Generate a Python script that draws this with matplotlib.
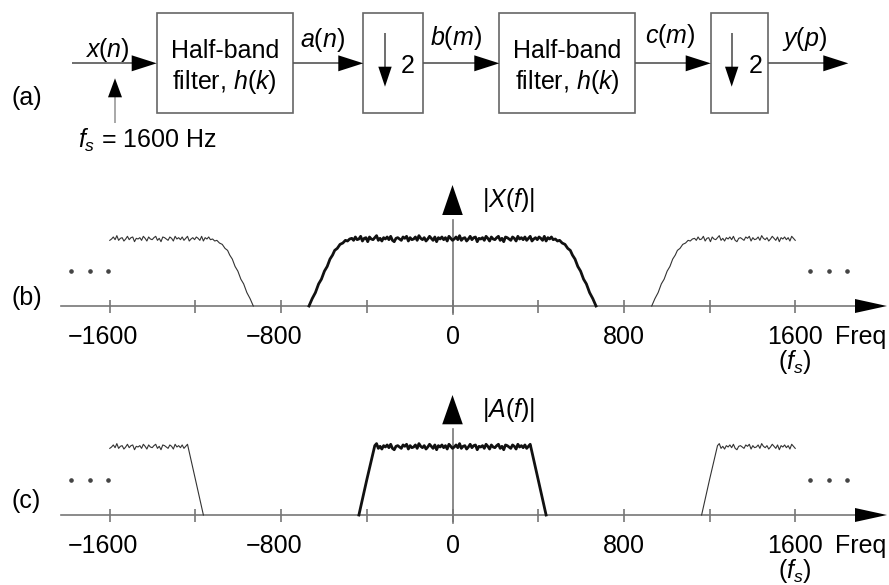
"""
Half-band decimation chain: block diagram (a) and spectra |X(f)| (b), |A(f)| (c).
Output: out.png
"""

import numpy as np
import matplotlib
matplotlib.use('Agg')
import matplotlib.pyplot as plt
import matplotlib.transforms as mtransforms
from matplotlib.patches import Rectangle, Polygon

plt.rcParams['font.family'] = ['Liberation Sans', 'DejaVu Sans']
plt.rcParams['mathtext.fontset'] = 'custom'
plt.rcParams['mathtext.rm'] = 'Liberation Sans'
plt.rcParams['mathtext.it'] = 'Liberation Sans:italic'

# ── data ────────────────────────────────────────────────────────────────────
FS = 1600
TICK_F = [-1600, -1200, -800, -400, 0, 400, 800, 1200, 1600]
TICK_LBL = {-1600: '\u22121600', -800: '\u2212800', 0: '0', 800: '800', 1600: '1600'}

# |X(f)| pass-band ripple around 1.0, read along the flat top (-470 .. 470 Hz)
X_FLAT = 470
X_RIPPLE = [0.01, -0.02, 0.03, -0.01, 0.00, 0.04, -0.03, 0.01, 0.02, -0.04,
            0.03, 0.00, -0.01, 0.02, 0.05, -0.02, 0.01, -0.03, 0.02, 0.00,
            0.03, -0.01, 0.04, -0.02, -0.04, 0.01, 0.02, 0.00, -0.02, 0.03,
            0.01, 0.04, -0.03, 0.02, -0.01, 0.00, 0.03, -0.02, 0.05, 0.01,
            -0.01, 0.02, -0.03, 0.00, 0.04, 0.01, -0.02, 0.03, -0.04, 0.02,
            0.00, 0.03, -0.01, 0.02, -0.03, 0.04, 0.01, -0.02, 0.00, 0.03,
            -0.01, 0.05, -0.02, 0.01, 0.02, -0.03, 0.00, 0.04, -0.01, 0.02,
            0.03, -0.04, 0.01, 0.00, 0.02, -0.02, 0.04, 0.01, -0.03, 0.03,
            0.00, -0.01, 0.02, 0.04, -0.02, 0.01, -0.04, 0.03, 0.02, 0.00,
            -0.02, 0.03, 0.01, -0.03, 0.04, 0.00, 0.02, -0.01, 0.03, -0.02,
            0.01, 0.04, -0.03, 0.00, 0.02, -0.01, 0.03, 0.01, -0.02, 0.04,
            -0.03, 0.02, 0.00, 0.03, -0.01]
# transition band of |X(f)|, positive side (mirrored for negative f)
X_EDGE_F = [480, 490, 500, 512, 525, 538, 550, 560, 572, 585, 598, 612,
            625, 640, 655, 670]
X_EDGE_M = [1.00, 0.97, 0.98, 0.94, 0.92, 0.86, 0.83, 0.76, 0.70, 0.59,
            0.52, 0.40, 0.33, 0.20, 0.11, 0.0]

# |A(f)| = |X(f)| after the half-band filter: same ripple, narrower band
A_FLAT = 365
A_EDGE_F = [400, 437]
A_EDGE_M = [0.52, 0.0]

# ── layout (pixels) ─────────────────────────────────────────────────────────
W, H = 889, 585
X0, SX = 452.5, 0.2142          # px of f=0, px per Hz
LINE = '#555555'
AXC = '#777777'
FONT = 18


def spectrum(flat_f, flat_m, edge_f, edge_m):
    ef = np.array(edge_f, float)
    em = np.array(edge_m, float)
    f = np.concatenate([-ef[::-1], flat_f, ef])
    m = np.concatenate([em[::-1], flat_m, em])
    return f, m


def head(ax, tip, direction, length, half, color='black'):
    tx, ty = tip
    dx, dy = direction
    bx, by = tx - dx * length, ty - dy * length
    px, py = -dy * half, dx * half
    ax.add_patch(Polygon([(tx, ty), (bx + px, by + py), (bx - px, by - py)],
                         closed=True, color=color, lw=0, zorder=5))


def arrow_line(ax, x1, y1, x2, y2, length, half, color=LINE, lw=1.2):
    d = np.hypot(x2 - x1, y2 - y1)
    ux, uy = (x2 - x1) / d, (y2 - y1) / d
    ax.plot([x1, x2 - ux * length * 0.6], [y1, y2 - uy * length * 0.6],
            color=color, lw=lw, solid_capstyle='butt')
    head(ax, (x2, y2), (ux, uy), length, half)


flat_f = np.linspace(-X_FLAT, X_FLAT, len(X_RIPPLE))
flat_m = 1.0 + np.array(X_RIPPLE)
xf, xm = spectrum(flat_f, flat_m, X_EDGE_F, X_EDGE_M)
keep = np.abs(flat_f) <= A_FLAT
af, am = spectrum(flat_f[keep], flat_m[keep], A_EDGE_F, A_EDGE_M)

fig = plt.figure(figsize=(W / 100, H / 100), dpi=100)
ax0 = fig.add_axes([0, 0, 1, 1])
ax0.set_xlim(0, W)
ax0.set_ylim(H, 0)
ax0.axis('off')

# ── (a) block diagram ───────────────────────────────────────────────────────
SIG_Y = 63.3
BOX_T, BOX_B = 13.3, 113.3
boxes = [(156.7, 292.7), (363.3, 422.7), (499.3, 635.0), (710.7, 768.3)]
for x1, x2 in boxes:
    ax0.add_patch(Rectangle((x1, BOX_T), x2 - x1, BOX_B - BOX_T, fill=False,
                            ec='#666666', lw=1.2))

arrow_line(ax0, 72, SIG_Y, boxes[0][0], SIG_Y, 25, 8)
arrow_line(ax0, boxes[0][1], SIG_Y, boxes[1][0], SIG_Y, 25, 8)
arrow_line(ax0, boxes[1][1], SIG_Y, boxes[2][0], SIG_Y, 25, 8)
arrow_line(ax0, boxes[2][1], SIG_Y, boxes[3][0], SIG_Y, 25, 8)
arrow_line(ax0, boxes[3][1], SIG_Y, 848.3, SIG_Y, 25, 8)

for xd, x2 in [(385.0, 408.0), (731.7, 756.0)]:
    arrow_line(ax0, xd, 33, xd, 86.7, 20, 6.7, color=LINE)
    ax0.text(x2, 73.3, '2', ha='center', va='baseline', fontsize=FONT)

for x1, x2 in (boxes[0], boxes[2]):
    cx = (x1 + x2) / 2
    ax0.text(cx, 58, 'Half-band', ha='center', va='baseline', fontsize=FONT)
    ax0.text(cx, 88.5, 'filter, $h(k)$', ha='center', va='baseline', fontsize=FONT)

for txt, cx, by in [('$x(n)$', 107.5, 56.7), ('$a(n)$', 323, 46.7),
                    ('$b(m)$', 456, 45.0), ('$c(m)$', 670, 43.5),
                    ('$y(p)$', 805, 46.0)]:
    ax0.text(cx, by, txt, ha='center', va='baseline', fontsize=FONT)

arrow_line(ax0, 115, 123, 115, 78.3, 19, 7, color='#999999', lw=1.2)
ax0.text(78, 148.3, '$f_s$ = 1600 Hz', ha='left', va='baseline', fontsize=FONT)

for lbl, by in [('(a)', 105.5), ('(b)', 305), ('(c)', 508.3)]:
    ax0.text(11.7, by, lbl, ha='left', va='baseline', fontsize=FONT)


# ── (b), (c) spectra ────────────────────────────────────────────────────────
def panel(y0, sy, f, m, top_tip, top_base, name, lbl_base):
    ax = fig.add_axes([0, 0, 1, 1])
    ax.set_xlim(-X0 / SX, (W - X0) / SX)
    ax.set_ylim((y0 - H) / sy, y0 / sy)
    ax.axis('off')
    tb = mtransforms.blended_transform_factory(ax.transData, ax0.transData)

    # frequency axis with arrow, magnitude axis at f = 0
    ax0.plot([61, 870], [y0, y0], color=AXC, lw=1.2)
    head(ax0, (887, y0), (1, 0), 32, 7)
    ax.plot([0, 0], [y0 + 8, top_base + 5], color=AXC, lw=1.2, transform=tb)
    head(ax0, (X0, top_tip), (0, -1), top_base - top_tip, 10.3)
    ax.vlines(TICK_F, y0 - 6.5, y0 + 7, color=AXC, lw=1.2, transform=tb)

    for tf, tl in TICK_LBL.items():
        tr = tb
        if tl.startswith('\u2212'):
            tr = mtransforms.offset_copy(tb, fig=fig, x=-7, y=0, units='dots')
        ax.text(tf, lbl_base, tl, ha='center', va='baseline', fontsize=FONT,
                transform=tr)
    ax.text(FS, lbl_base + 25, '($f_s$)', ha='center', va='baseline',
            fontsize=FONT, transform=tb)
    ax0.text(835, lbl_base, 'Freq', ha='left', va='baseline', fontsize=FONT)
    ax0.text(X0 + 29, top_tip + 21.7, name, ha='left', va='baseline', fontsize=FONT)

    # base-band spectrum and its images at +/- fs
    ax.plot(f, m, color='#111111', lw=2.0, zorder=4)
    right = f <= 0
    left = f >= 0
    ax.plot(f[right] + FS, m[right], color='#333333', lw=0.8, zorder=4)
    ax.plot(f[left] - FS, m[left], color='#333333', lw=0.8, zorder=4)

    dots_y = y0 - 35
    ax0.plot([71, 89.5, 108], [dots_y] * 3, 'o', ms=2.3, color='#444444')
    ax0.plot([810, 828.5, 847], [dots_y] * 3, 'o', ms=2.3, color='#444444')
    return ax


panel(306, 67, xf, xm, 185, 215, '$|X(f)|$', 344.3)
panel(515, 68, af, am, 395, 424.3, '$|A(f)|$', 553.3)

fig.savefig('out.png', dpi=100)
